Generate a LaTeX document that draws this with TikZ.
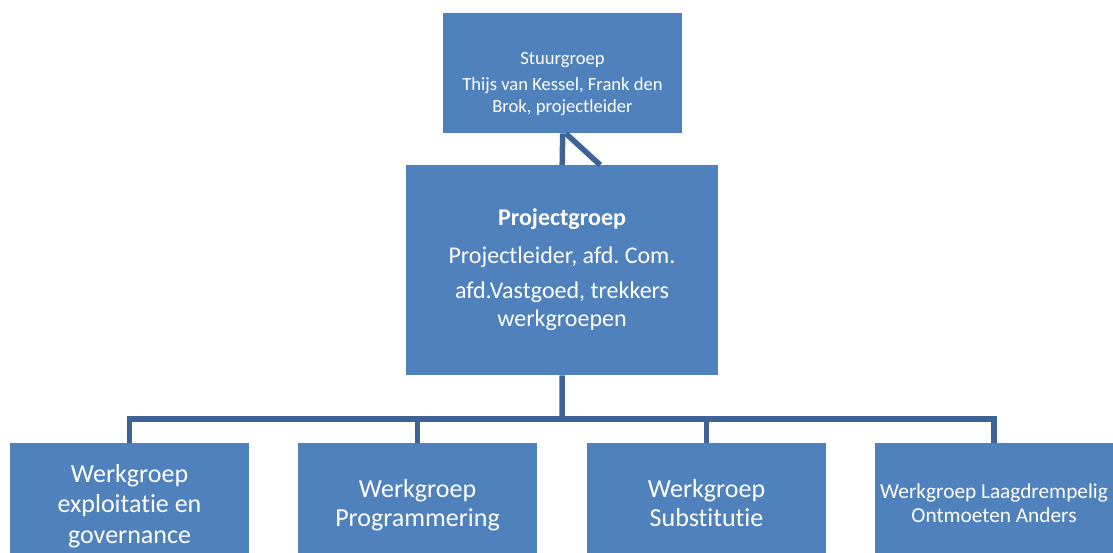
\documentclass[tikz,border=0pt]{standalone}
\usepackage{fontspec}
\setmainfont{Carlito}[Ligatures=NoCommon]
\frenchspacing
\definecolor{boxblue}{HTML}{4F81BD}
\definecolor{linkblue}{HTML}{3E6397}
\newcommand{\fsz}[2]{\fontsize{#1}{#2}\selectfont\lineskiplimit=-100pt\relax}
\newcommand{\topstrut}{\rule{0pt}{40pt}}
\begin{document}
\begin{tikzpicture}[x=1pt,y=-1pt,
  box/.style={fill=boxblue,draw=none,inner sep=0,anchor=north west},
  txt/.style={text=white,inner sep=0,anchor=north,align=center},
  link/.style={draw=linkblue,line width=5.5pt}]
\useasboundingbox (0,0) rectangle (1113,553);
% boxes
\node[box,minimum width=239pt,minimum height=120pt] (top) at (443,13) {};
\node[box,minimum width=312pt,minimum height=210pt] (proj) at (406,165) {};
\node[box,minimum width=239pt,minimum height=110pt] (w1) at (10,443) {};
\node[box,minimum width=239pt,minimum height=110pt] (w2) at (298,443) {};
\node[box,minimum width=239pt,minimum height=110pt] (w3) at (587,443) {};
\node[box,minimum width=238pt,minimum height=110pt] (w4) at (875,443) {};
% connectors
\coordinate (bus) at (562,419);
\draw[link] (top.south) -- (proj.north);
\draw[link] ([xshift=3pt]top.south) -- ([xshift=38pt]proj.north);
\draw[link] (proj.south) -- (bus);
\draw[link] (w1.north) -- (w1.north |- bus) -- (w4.north |- bus) -- (w4.north);
\draw[link] (w2.north |- bus) -- (w2.north);
\draw[link] (w3.north |- bus) -- (w3.north);
% texts (anchor north at first baseline minus 40pt strut)
\node[txt,font=\fsz{18.6}{22}] (toptext) at (562.5,24) {\topstrut Stuurgroep\\[4pt]Thijs van Kessel, Frank den\\Brok, projectleider};
\node[txt,font=\fsz{24}{28}] (projtext) at (562,185) {\topstrut\textbf{Projectgroep}\\[10pt]Projectleider, afd. Com.\\[7pt]afd.Vastgoed, trekkers\\werkgroepen};
\node[txt,font=\fsz{26}{30.5}] (w1text) at (129.5,442) {\topstrut Werkgroep\\exploitatie en\\governance};
\node[txt,font=\fsz{26}{29.5}] (w2text) at (417.5,457) {\topstrut Werkgroep\\Programmering};
\node[txt,font=\fsz{26}{29.5}] (w3text) at (706.5,457) {\topstrut Werkgroep\\Substitutie};
\node[txt,font=\fsz{21.3}{24}] (w4text) at (994,458) {\topstrut Werkgroep Laagdrempelig\\Ontmoeten Anders};
\end{tikzpicture}
\end{document}
